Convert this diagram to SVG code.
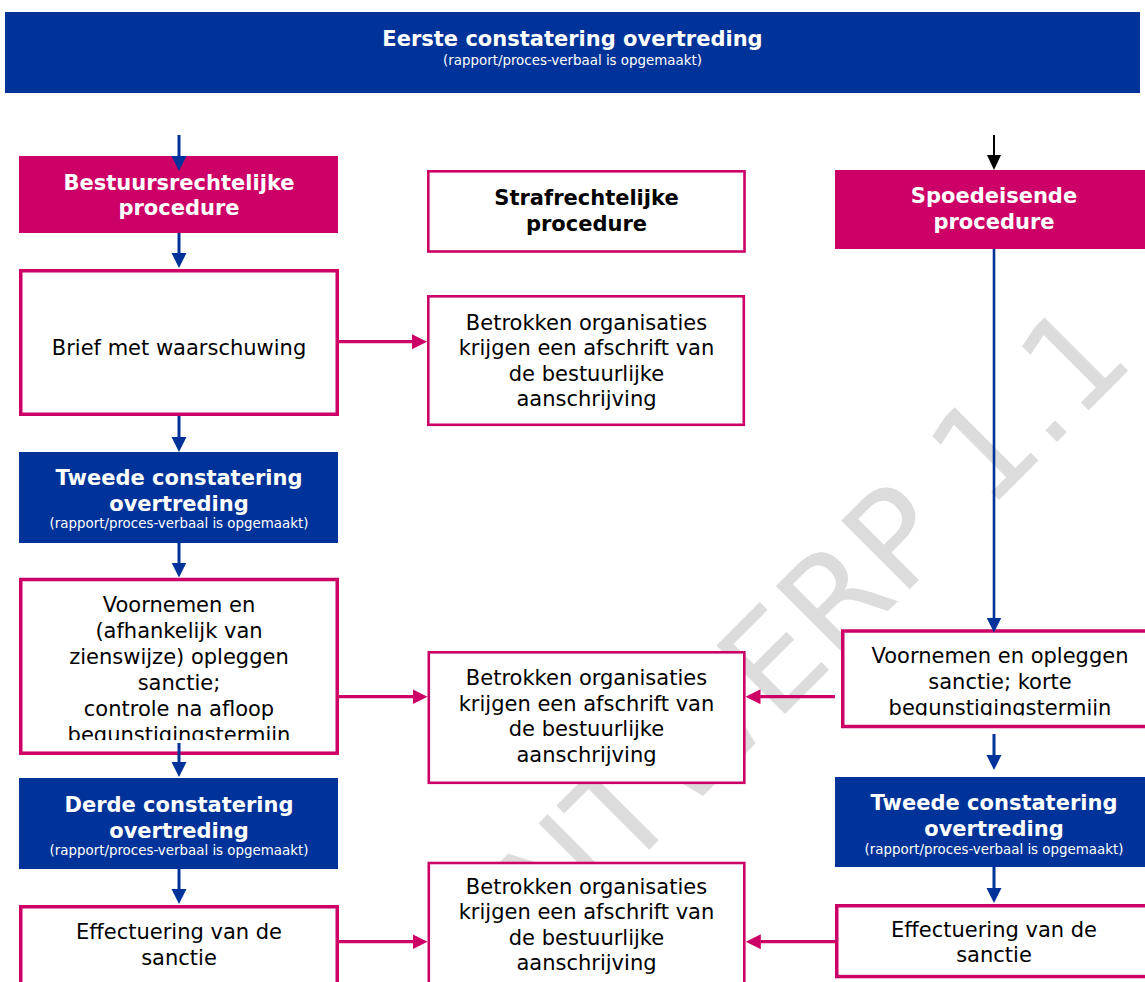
<svg xmlns="http://www.w3.org/2000/svg" width="1145" height="982" viewBox="0 0 1145 982">
<style>
text{font-family:"DejaVu Sans",Verdana,sans-serif;font-size:21px;text-anchor:middle}
.b{font-weight:bold}
.w{fill:#ffffff}
.k{fill:#000000}
.s{font-size:13.4px}
.blue{fill:#003399}
.pinkf{fill:#cc0066}
.box{fill:#ffffff;stroke:#cc0066;stroke-width:3.5}
.mbox{fill:#ffffff;stroke:#cc0066;stroke-width:2.6}
.ab{stroke:#003399;stroke-width:3;fill:none;marker-end:url(#hb)}
.ab2{stroke:#003399;stroke-width:2.6;fill:none;marker-end:url(#hb)}
.ak{stroke:#000000;stroke-width:2;fill:none;marker-end:url(#hk)}
.ap{stroke:#cc0066;stroke-width:3.3;fill:none;marker-end:url(#hp)}
.wm{font-size:133px;fill:#dcdcdc;text-anchor:start}
</style>
<defs>
<marker id="hb" markerUnits="userSpaceOnUse" markerWidth="16" markerHeight="16" refX="7" refY="7.5" orient="auto"><path d="M0,0 L15,7.5 L0,15 Z" fill="#003399"/></marker>
<marker id="hp" markerUnits="userSpaceOnUse" markerWidth="16" markerHeight="16" refX="7" refY="7.5" orient="auto"><path d="M0,0 L15,7.5 L0,15 Z" fill="#cc0066"/></marker>
<marker id="hk" markerUnits="userSpaceOnUse" markerWidth="16" markerHeight="16" refX="7" refY="7" orient="auto"><path d="M0,0 L15,7 L0,14 Z" fill="#000000"/></marker>
<clipPath id="c1"><rect x="20" y="580" width="318" height="160"/></clipPath>
<clipPath id="c2"><rect x="842" y="632" width="303" height="83.5"/></clipPath>
</defs>

<text class="wm" transform="translate(481,1018) rotate(-45)">ONTWERP 1.1</text>

<g id="banner">
<rect class="blue" x="5" y="12" width="1135" height="81"/>
<text class="b w" x="572.5" y="46">Eerste constatering overtreding</text>
<text class="s w" x="572.5" y="64.5">(rapport/proces-verbaal is opgemaakt)</text>
</g>

<g id="bestuursrechtelijke">
<rect class="pinkf" x="19" y="156" width="319" height="77"/>
<text class="b w" x="179" y="189.5">Bestuursrechtelijke</text>
<text class="b w" x="179" y="215">procedure</text>
</g>

<g id="strafrechtelijke">
<rect class="mbox" x="428.3" y="171.3" width="316.2" height="80.2"/>
<text class="b k" x="586.5" y="205">Strafrechtelijke</text>
<text class="b k" x="586.5" y="230.5">procedure</text>
</g>

<g id="spoedeisende">
<rect class="pinkf" x="835" y="170" width="320" height="79"/>
<text class="b w" x="994" y="203">Spoedeisende</text>
<text class="b w" x="994" y="229">procedure</text>
</g>

<g id="brief">
<rect class="box" x="20.75" y="270.75" width="316.5" height="143.5"/>
<text class="k" x="179" y="355">Brief met waarschuwing</text>
</g>

<g id="afschrift1">
<rect class="mbox" x="428.3" y="296.3" width="315.5" height="128.5"/>
<text class="k" x="586.5" y="329.5">Betrokken organisaties</text>
<text class="k" x="586.5" y="355">krijgen een afschrift van</text>
<text class="k" x="586.5" y="380.5">de bestuurlijke</text>
<text class="k" x="586.5" y="406">aanschrijving</text>
</g>

<g id="tweede-links">
<rect class="blue" x="19" y="452" width="319" height="91"/>
<text class="b w" x="179" y="485">Tweede constatering</text>
<text class="b w" x="179" y="511">overtreding</text>
<text class="s w" x="179" y="527.5">(rapport/proces-verbaal is opgemaakt)</text>
</g>

<g id="voornemen-links">
<rect class="box" x="20.75" y="579.5" width="316.5" height="173.7"/>
<g clip-path="url(#c1)">
<text class="k" x="179" y="612">Voornemen en</text>
<text class="k" x="179" y="638">(afhankelijk van</text>
<text class="k" x="179" y="664">zienswijze) opleggen</text>
<text class="k" x="179" y="690">sanctie;</text>
<text class="k" x="179" y="716">controle na afloop</text>
<text class="k" x="179" y="742">begunstigingstermijn</text>
</g>
</g>

<g id="afschrift2">
<rect class="mbox" x="428.8" y="652.3" width="315.5" height="130.5"/>
<text class="k" x="586.5" y="685">Betrokken organisaties</text>
<text class="k" x="586.5" y="710.5">krijgen een afschrift van</text>
<text class="k" x="586.5" y="736">de bestuurlijke</text>
<text class="k" x="586.5" y="761.5">aanschrijving</text>
</g>

<g id="voornemen-rechts">
<rect class="box" x="842.75" y="631" width="320" height="95.5"/>
<g clip-path="url(#c2)">
<text class="k" x="1000" y="663">Voornemen en opleggen</text>
<text class="k" x="1000" y="688.5">sanctie; korte</text>
<text class="k" x="1000" y="714.5">begunstigingstermijn</text>
</g>
</g>

<g id="derde-links">
<rect class="blue" x="19" y="778" width="319" height="91"/>
<text class="b w" x="179" y="811.5">Derde constatering</text>
<text class="b w" x="179" y="837.5">overtreding</text>
<text class="s w" x="179" y="855">(rapport/proces-verbaal is opgemaakt)</text>
</g>

<g id="tweede-rechts">
<rect class="blue" x="835" y="777" width="320" height="90"/>
<text class="b w" x="994" y="810">Tweede constatering</text>
<text class="b w" x="994" y="836">overtreding</text>
<text class="s w" x="994" y="854">(rapport/proces-verbaal is opgemaakt)</text>
</g>

<g id="afschrift3">
<rect class="mbox" x="428.8" y="863" width="315.5" height="130"/>
<text class="k" x="586.5" y="893.5">Betrokken organisaties</text>
<text class="k" x="586.5" y="919">krijgen een afschrift van</text>
<text class="k" x="586.5" y="944.5">de bestuurlijke</text>
<text class="k" x="586.5" y="970">aanschrijving</text>
</g>

<g id="effectuering-links">
<rect class="box" x="20.75" y="906.75" width="316.5" height="100"/>
<text class="k" x="179" y="939">Effectuering van de</text>
<text class="k" x="179" y="964.5">sanctie</text>
</g>

<g id="effectuering-rechts">
<rect class="box" x="836.75" y="905.75" width="320" height="70.8"/>
<text class="k" x="994" y="937">Effectuering van de</text>
<text class="k" x="994" y="962">sanctie</text>
</g>

<g id="connectors">
<path class="ab" d="M179,135 V163"/>
<path class="ab" d="M179,233 V260"/>
<path class="ab" d="M179,416 V444"/>
<path class="ab" d="M179,543 V569.5"/>
<path class="ab" d="M179,743 V769"/>
<path class="ab" d="M179,869 V896"/>
<path class="ak" d="M994,135 V162"/>
<path class="ab2" d="M994,249 V624.5"/>
<path class="ab" d="M994,734 V762"/>
<path class="ab" d="M994,867 V895"/>
<path class="ap" d="M339,341.7 H419"/>
<path class="ap" d="M339,696.7 H419.5"/>
<path class="ap" d="M835,696.7 H753.5"/>
<path class="ap" d="M339,941.7 H419.5"/>
<path class="ap" d="M835,941.7 H753.8"/>
</g>
</svg>
